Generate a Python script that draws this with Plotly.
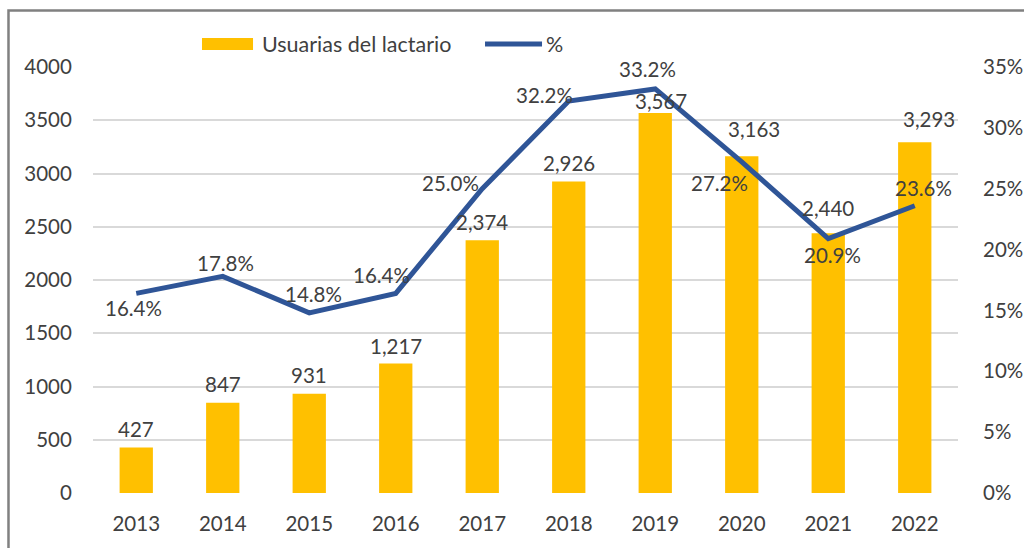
import plotly.graph_objects as go

years = ["2013", "2014", "2015", "2016", "2017", "2018", "2019", "2020", "2021", "2022"]
usuarias = [427, 847, 931, 1217, 2374, 2926, 3567, 3163, 2440, 3293]
pct = [16.4, 17.8, 14.8, 16.4, 25.0, 32.2, 33.2, 27.2, 20.9, 23.6]
legend_names = ["Usuarias del lactario", "%"]

# label offsets in pixels (dx, dy), measured from the point / bar top to the label centre
pct_shift = [(-3, -15), (3, 13.5), (4, 18.5), (-14, 18.5), (-32, 5.5), (-24, 6.5),
             (-8, 19.5), (-22, -21.5), (4, -16), (9, 18)]
bar_shift = [(0, 19), (0, 18.5), (0, 18.5), (0, 17), (0, 18.5), (0, 18),
             (6, 12), (12, 27), (0, 25), (14, 23)]

FONT = "Lato"
FS = 20.5
TXT = "#404040"
BLUE = "#2F5597"
GOLD = "#FFC000"

fig = go.Figure()
fig.add_trace(go.Bar(x=years, y=usuarias, name=legend_names[0], marker_color=GOLD,
                     marker_line_width=0, yaxis="y", showlegend=False))
fig.add_trace(go.Scatter(x=years, y=pct, name=legend_names[1], mode="lines",
                         line=dict(color=BLUE, width=5), yaxis="y2", showlegend=False))

ann = []
for i, v in enumerate(usuarias):
    dx, dy = bar_shift[i]
    ann.append(dict(x=i, y=v, xref="x", yref="y", text=f"{v:,}", showarrow=False,
                    yanchor="middle", xshift=dx, yshift=dy,
                    font=dict(family=FONT, size=FS, color=TXT)))
for i, v in enumerate(pct):
    dx, dy = pct_shift[i]
    ann.append(dict(x=i, y=v, xref="x", yref="y2", text=f"{v:.1f}%", showarrow=False,
                    yanchor="middle", xshift=dx, yshift=dy,
                    font=dict(family=FONT, size=FS, color=TXT)))

# custom legend (wide swatch like the original)
ann.append(dict(x=0.1931, y=1.054, xref="paper", yref="paper", text=legend_names[0],
                showarrow=False, xanchor="left", yanchor="middle",
                font=dict(family=FONT, size=21.5, color=TXT)))
ann.append(dict(x=0.5214, y=1.054, xref="paper", yref="paper", text=legend_names[1],
                showarrow=False, xanchor="left", yanchor="middle",
                font=dict(family=FONT, size=21.5, color=TXT)))

shapes = [
    dict(type="rect", xref="paper", yref="paper", x0=-0.0977, x1=1.1, y0=-0.2, y1=1.1326,
         line=dict(color="#808080", width=2.5), fillcolor="rgba(0,0,0,0)", layer="below"),
    dict(type="rect", xref="paper", yref="paper", x0=0.1260, x1=0.1850, y0=1.0399, y1=1.0681,
         line=dict(width=0), fillcolor=GOLD),
    dict(type="line", xref="paper", yref="paper", x0=0.4532, x1=0.5191, y0=1.054, y1=1.054,
         line=dict(color=BLUE, width=5)),
]

fig.update_layout(
    width=1024, height=548,
    margin=dict(l=93, r=66, t=67, b=55, autoexpand=False),
    paper_bgcolor="white", plot_bgcolor="white",
    font=dict(family=FONT, size=FS, color=TXT),
    bargap=0.615,
    showlegend=False,
    xaxis=dict(type="category", range=[-0.5, 9.5], autorange=False, showgrid=False,
               zeroline=False, showline=False, ticks="outside",
               ticklen=12, tickcolor="rgba(0,0,0,0)", tickfont=dict(size=FS, color=TXT)),
    yaxis=dict(range=[0, 4000], autorange=False, dtick=500, showgrid=True, gridcolor="#D9D9D9",
               gridwidth=1.5, zeroline=False, showline=False, ticks="outside", ticklen=16,
               tickcolor="rgba(0,0,0,0)", tickfont=dict(size=FS, color=TXT)),
    yaxis2=dict(range=[0, 35], autorange=False, dtick=5, overlaying="y", side="right",
                showgrid=False, zeroline=False, showline=False, ticksuffix="%", ticks="outside",
                ticklen=20, tickcolor="rgba(0,0,0,0)", tickfont=dict(size=FS, color=TXT)),
    annotations=ann,
    shapes=shapes,
)

fig.write_html("out.html", config={"displayModeBar": False},
               post_script="document.body.style.margin='0';document.body.style.overflow='hidden';")
